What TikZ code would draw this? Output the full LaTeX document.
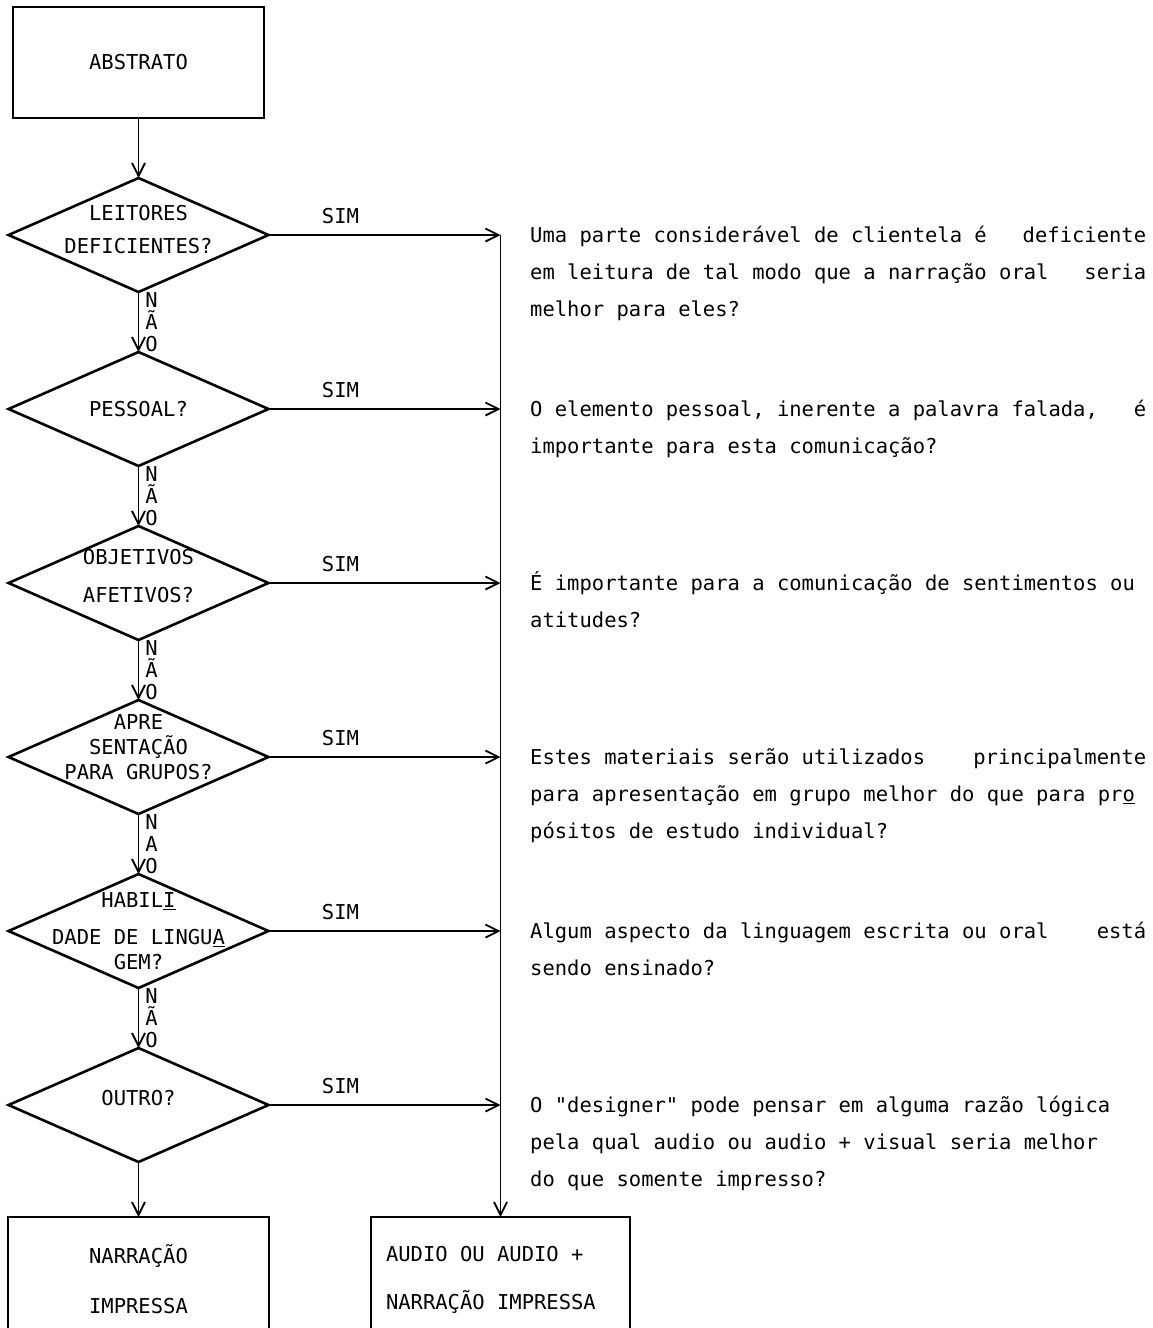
\documentclass[tikz,border=0pt]{standalone}
\usepackage{fontspec}
\setmonofont{DejaVu Sans Mono}
\usepackage{tikz}
\usetikzlibrary{arrows.meta,positioning,shapes.geometric}
\tikzset{
  caixa/.style={rectangle, draw=black, line width=2.6pt, align=center, inner sep=0pt, outer sep=0pt,
                font=\ttfamily\fontsize{20.5}{25}\selectfont},
  losango/.style={diamond, draw=black, line width=2.6pt, inner sep=0pt, outer sep=0pt,
                  minimum width=260pt, minimum height=114pt},
  qtext/.style={align=center, inner sep=0pt, font=\ttfamily\fontsize{20.5}{25}\selectfont},
  seta/.style={-{Straight Barb[length=13pt,width=13pt]}, line width=1.8pt, draw=black},
  sim/.style={above=10pt, inner sep=0pt, font=\ttfamily\fontsize{20.5}{25}\selectfont},
  nao/.style={right, xshift=6pt, align=center, inner sep=0pt,
              font=\ttfamily\fontsize{20.5}{22}\selectfont},
  desc/.style={anchor=base west, align=left, text width=616pt, inner sep=0pt,
               execute at begin node={\spaceskip=0pt\xspaceskip=0pt\relax},
               font=\ttfamily\fontsize{20.5}{37}\selectfont},
}
\begin{document}
\begin{tikzpicture}[x=1pt, y=-1pt, node distance=60pt]
  \useasboundingbox[fill=white] (0,0) rectangle (1152,1328);
  \node[caixa, minimum width=251pt, minimum height=111pt] (abs) at (138.5,62.5) {ABSTRATO};
  \node[losango, below=of abs] (d1) {};
  \node[losango, below=of d1] (d2) {};
  \node[losango, below=of d2] (d3) {};
  \node[losango, below=of d3] (d4) {};
  \node[losango, below=of d4] (d5) {};
  \node[losango, below=of d5] (d6) {};
  \node[caixa, minimum width=261pt, minimum height=125pt, below=55pt of d6] (narr) {NARRAÇÃO\\[25pt]IMPRESSA};
  \node[caixa, align=left, text width=229pt, inner xsep=15pt, minimum height=125pt, right=102pt of narr,
        execute at begin node={\spaceskip=0pt\xspaceskip=0pt\relax}] (aud)
       {AUDIO OU AUDIO +\\[23pt]NARRAÇÃO IMPRESSA};
  % textos dos losangos
  \node[qtext, yshift=5pt] (q1) at (d1) {LEITORES\\[8pt]DEFICIENTES?};
  \node[qtext] (q2) at (d2) {PESSOAL?};
  \node[qtext, yshift=7pt] (q3) at (d3) {OBJETIVOS\\[13pt]AFETIVOS?};
  \node[qtext, yshift=10pt] (q4) at (d4) {APRE\\SENTAÇÃO\\PARA GRUPOS?};
  \node[qtext] (q5) at (d5) {HABIL\underline{I}\\[12pt]DADE DE LINGU\underline{A}\\GEM?};
  \node[qtext, yshift=7pt] (q6) at (d6) {OUTRO?};
  \coordinate (b1) at (d1.east -| aud.north);
  \coordinate (b2) at (d2.east -| aud.north);
  \coordinate (b3) at (d3.east -| aud.north);
  \coordinate (b4) at (d4.east -| aud.north);
  \coordinate (b5) at (d5.east -| aud.north);
  \coordinate (b6) at (d6.east -| aud.north);
  \draw[seta] (abs) -- (d1);
  \draw[seta] (d1) -- node[nao] (n1) {N\\Ã\\O} (d2);
  \draw[seta] (d2) -- node[nao] (n2) {N\\Ã\\O} (d3);
  \draw[seta] (d3) -- node[nao] (n3) {N\\Ã\\O} (d4);
  \draw[seta] (d4) -- node[nao] (n4) {N\\A\\O} (d5);
  \draw[seta] (d5) -- node[nao] (n5) {N\\Ã\\O} (d6);
  \draw[seta] (d6) -- (narr);
  \draw[seta] (d1.east) -- node[sim, pos=0.31] (s1) {SIM} (b1);
  \draw[seta] (d2.east) -- node[sim, pos=0.31] (s2) {SIM} (b2);
  \draw[seta] (d3.east) -- node[sim, pos=0.31] (s3) {SIM} (b3);
  \draw[seta] (d4.east) -- node[sim, pos=0.31] (s4) {SIM} (b4);
  \draw[seta] (d5.east) -- node[sim, pos=0.31] (s5) {SIM} (b5);
  \draw[seta] (d6.east) -- node[sim, pos=0.31] (s6) {SIM} (b6);
  \draw[seta] (b1) -- (aud.north);
  % perguntas
  \node[desc] (t1) at ([xshift=29.5pt, yshift=-7pt]b1)
    {Uma parte considerável de clientela é\hfill deficiente\\em leitura de tal modo que a narração oral\hfill seria\\melhor para eles?};
  \node[desc] (t2) at ([xshift=29.5pt, yshift=-7pt]b2)
    {O elemento pessoal, inerente a palavra falada,\hfill é\\importante para esta comunicação?};
  \node[desc] (t3) at ([xshift=29.5pt, yshift=-7pt]b3)
    {É importante para a comunicação de sentimentos ou\\atitudes?};
  \node[desc] (t4) at ([xshift=29.5pt, yshift=-7pt]b4)
    {Estes materiais serão utilizados\hfill principalmente\\para apresentação em grupo melhor do que para pr\underline{o}\\pósitos de estudo individual?};
  \node[desc] (t5) at ([xshift=29.5pt, yshift=-7pt]b5)
    {Algum aspecto da linguagem escrita ou oral\hfill está\\sendo ensinado?};
  \node[desc] (t6) at ([xshift=29.5pt, yshift=-7pt]b6)
    {O "designer" pode pensar em alguma razão lógica\\pela qual audio ou audio + visual seria melhor\\do que somente impresso?};
\end{tikzpicture}
\end{document}
